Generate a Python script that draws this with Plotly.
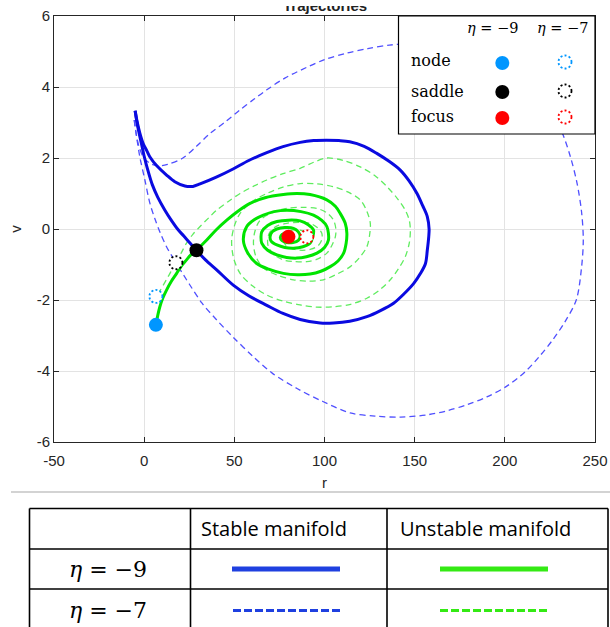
import plotly.graph_objects as go

# ---------------- data ----------------
x_ticks = [-50, 0, 50, 100, 150, 200, 250]
x_tick_text = ["-50", "0", "50", "100", "150", "200", "250"]
y_ticks = [-6, -4, -2, 0, 2, 4, 6]
y_tick_text = ["-6", "-4", "-2", "0", "2", "4", "6"]

# equilibria  (eta = -9 filled, eta = -7 dotted)
node_9 = (6.5, -2.7)
saddle_9 = (29.0, -0.6)
focus_9 = (80.0, -0.22)
node_7 = (6.5, -1.9)
saddle_7 = (17.6, -0.95)
focus_7 = (90.2, -0.22)

# stable manifold, eta = -9 (solid blue)
stab9_a_r = [-5.0, -4.0, -2.8, -1.5, 0.0, 1.8, 4.5, 7.5, 11.5, 15.0, 18.5, 22.0, 25.5, 29.0]
stab9_a_v = [3.33, 3.0, 2.7, 2.4, 2.05, 1.7, 1.25, 0.9, 0.53, 0.25, 0.0, -0.2, -0.4, -0.6]
stab9_b_r = [-5.0, -4.0, -2.4, -0.5, 1.5, 3.2, 7.0, 12.4, 17.0, 22.6, 27.0, 31.0, 40.0, 49.3, 58.0,
             68.0, 77.0, 86.5, 94.0, 101.0, 108.0, 114.0, 122.0, 129.0, 136.0, 142.0, 147.0, 151.3,
             154.5, 157.0, 158.0, 157.8, 157.0, 156.0, 153.0, 149.5, 144.0, 138.3, 131.0, 123.5,
             114.0, 105.0, 97.6, 86.5, 77.0, 68.0, 58.0, 49.4, 40.2, 34.0, 29.0]
stab9_b_v = [3.33, 3.05, 2.7, 2.4, 2.2, 2.03, 1.78, 1.52, 1.33, 1.21, 1.2, 1.27, 1.46, 1.69, 1.93,
             2.15, 2.32, 2.44, 2.49, 2.5, 2.49, 2.46, 2.33, 2.13, 1.9, 1.66, 1.35, 1.0,
             0.65, 0.35, 0.0, -0.22, -0.6, -0.97, -1.27, -1.53, -1.83, -2.09, -2.3, -2.47,
             -2.6, -2.65, -2.65, -2.55, -2.38, -2.15, -1.88, -1.58, -1.15, -0.87, -0.6]

# stable manifold, eta = -7 (dashed blue)
stab7_a_r = [-5.5, -4.2, -2.4, 0.4, 3.2, 6.0, 9.0, 12.4, 15.0, 17.6]
stab7_a_v = [3.07, 2.6, 2.03, 1.38, 0.72, 0.28, -0.12, -0.5, -0.73, -0.95]
stab7_b_r = [-5.5, -4.5, -3.0, -0.5, 3.2, 7.8, 13.0, 21.5, 29.0, 36.5, 45.0, 53.0, 61.0, 68.0,
             78.0, 90.0, 100.0, 112.0, 124.0, 136.0, 148.0, 160.0, 172.0, 185.0, 198.0, 210.0,
             220.0, 227.0, 232.0, 236.4, 240.0, 242.5, 243.5, 242.5, 239.6, 233.5, 226.6, 219.0,
             211.5, 200.7, 190.0, 179.0, 168.0, 157.5, 142.3, 128.0, 114.2, 99.1, 85.0, 71.0,
             60.6, 49.4, 40.0, 32.1, 25.0, 17.6]
stab7_b_v = [3.07, 2.7, 2.35, 2.03, 1.85, 1.78, 1.82, 2.0, 2.33, 2.69, 3.02, 3.35, 3.66, 3.92,
             4.25, 4.55, 4.77, 4.95, 5.08, 5.18, 5.22, 5.2, 5.1, 4.92, 4.62, 4.2,
             3.7, 3.2, 2.69, 2.03, 1.3, 0.5, -0.3, -1.1, -2.0, -2.6, -3.12, -3.6,
             -4.01, -4.44, -4.73, -4.95, -5.12, -5.23, -5.3, -5.27, -5.18, -4.86, -4.5, -4.06,
             -3.6, -3.05, -2.55, -2.09, -1.55, -0.95]

# unstable manifold, eta = -9 (solid green)
unst9_a_r = [29.0, 26.0, 23.5, 20.5, 18.0, 15.0, 12.4, 10.3, 8.7, 7.6, 6.9, 6.5]
unst9_a_v = [-0.6, -0.72, -0.87, -1.05, -1.25, -1.48, -1.72, -1.95, -2.19, -2.42, -2.6, -2.7]
unst9_b_r = [29.0, 34.7, 40.0, 45.8, 52.0, 58.7, 67.0, 77.2, 84.7, 92.0, 101.3, 106.0, 108.7,
             111.5, 112.4, 112.0, 110.6, 107.5, 103.2, 98.0, 92.0, 85.0, 77.2, 69.0, 62.4, 57.5,
             55.0, 56.9, 61.0, 66.1, 72.0, 79.1, 87.0, 93.9, 98.5, 101.3, 102.2, 100.0, 95.8,
             90.0, 84.7, 79.0, 73.6, 68.5, 65.2, 64.8, 65.2, 68.5, 73.6, 80.0, 86.5, 91.0, 93.9,
             93.5, 92.0, 88.0, 82.8, 78.0, 73.6, 70.5, 69.8, 71.0, 73.6, 78.0, 82.8, 85.5, 86.5,
             85.5, 82.5, 79.0, 76.5, 75.5, 76.5, 79.0, 81.5, 82.5, 81.5, 80.0]
unst9_b_v = [-0.6, -0.31, -0.02, 0.25, 0.5, 0.72, 0.88, 0.97, 1.0, 0.97, 0.82, 0.64, 0.44,
             0.16, -0.12, -0.4, -0.68, -0.9, -1.06, -1.19, -1.27, -1.29, -1.25, -1.13, -0.97, -0.68,
             -0.31, 0.07, 0.26, 0.39, 0.49, 0.53, 0.49, 0.39, 0.24, 0.07, -0.31, -0.52, -0.68,
             -0.78, -0.82, -0.8, -0.73, -0.6, -0.4, -0.22, -0.08, 0.1, 0.21, 0.25, 0.23, 0.12, -0.03,
             -0.22, -0.4, -0.5, -0.54, -0.52, -0.45, -0.35, -0.22, -0.08, 0.0, 0.04, 0.02, -0.08, -0.2,
             -0.32, -0.38, -0.38, -0.33, -0.24, -0.15, -0.11, -0.14, -0.21, -0.27, -0.22]

# unstable manifold, eta = -7 (dashed green)
unst7_a_r = [17.6, 15.8, 14.3, 12.4, 10.6, 9.0, 7.8, 6.5]
unst7_a_v = [-0.95, -1.1, -1.25, -1.42, -1.58, -1.72, -1.8, -1.9]
unst7_b_r = [17.6, 20.5, 23.5, 27.0, 31.0, 35.5, 40.2, 46.5, 53.2, 60.5, 68.0, 77.0, 86.5, 94.0,
             101.3, 110.5, 119.8, 128.0, 134.7, 140.5, 144.8, 147.0, 147.6, 147.0, 144.8, 141.0,
             136.5, 130.5, 123.5, 114.5, 105.0, 95.5, 86.5, 77.0, 68.0, 60.0, 53.2, 49.5, 48.5,
             50.0, 53.2, 60.0, 68.0, 77.0, 86.5, 96.0, 105.0, 113.5, 119.8, 123.5, 125.4, 125.0,
             123.5, 119.5, 114.3, 107.0, 99.4, 91.0, 82.8, 74.0, 66.1, 62.0, 60.6, 61.5, 64.3,
             71.0, 79.1, 87.5, 95.8, 101.5, 105.0, 106.3, 106.0, 104.0, 101.3, 96.0, 90.2, 83.5,
             77.2, 72.0, 68.9, 68.5, 69.8, 73.5, 79.1, 85.5, 92.0, 96.0, 98.5, 98.5, 96.5, 92.5,
             87.5, 82.5, 78.5, 76.8, 77.5, 80.5, 85.0, 89.0, 91.0, 90.2]
unst7_b_v = [-0.95, -0.68, -0.4, -0.15, 0.07, 0.3, 0.53, 0.77, 1.0, 1.2, 1.38, 1.56, 1.71, 1.88,
             2.0, 1.93, 1.75, 1.5, 1.19, 0.85, 0.53, 0.25, -0.03, -0.4, -0.78, -1.12,
             -1.43, -1.72, -1.95, -2.12, -2.19, -2.2, -2.14, -2.03, -1.86, -1.6, -1.25, -0.8, -0.31,
             0.08, 0.44, 0.78, 1.0, 1.18, 1.28, 1.27, 1.19, 1.03, 0.82, 0.5, 0.16, -0.17,
             -0.5, -0.8, -1.06, -1.27, -1.43, -1.47, -1.43, -1.3, -1.1, -0.78, -0.4, -0.05, 0.25,
             0.46, 0.58, 0.61, 0.58, 0.45, 0.25, 0.0, -0.22, -0.47, -0.68, -0.85, -0.92, -0.92,
             -0.87, -0.72, -0.5, -0.28, -0.08, 0.08, 0.16, 0.19, 0.16, 0.04, -0.12, -0.3, -0.47, -0.57,
             -0.6, -0.56, -0.45, -0.3, -0.15, -0.05, -0.02, -0.08, -0.2, -0.22]

legend_rows = ["node", "saddle", "focus"]
legend_cols = ["<i>η</i> = −9", "<i>η</i> = −7"]
table_header = ["Stable manifold", "Unstable manifold"]
table_rows = ["<i>η</i> = −9", "<i>η</i> = −7"]

# ---------------- styles ----------------
BLUE = "#0a0ae0"
BLUE_D = "#5050ff"
GREEN = "#00e400"
GREEN_D = "#5fec5f"
NODE_C = "#0096ff"
SADDLE_C = "#000000"
FOCUS_C = "#ff0000"
AXC = "#262626"

W_FIG, H_FIG = 610, 627
L, R, T, B = 54, 595, 16, 442  # plot area in page pixels
PW, PH = R - L, B - T


def px(x_page):
    return (x_page - L) / PW


def py(y_page):
    return (B - y_page) / PH


fig = go.Figure()


def add_line(r, v, color, width, dash=None):
    fig.add_trace(go.Scatter(x=r, y=v, mode="lines",
                             line=dict(color=color, width=width, dash=dash,
                                       shape="spline", smoothing=0.9),
                             hoverinfo="skip", showlegend=False))


add_line(stab7_a_r, stab7_a_v, BLUE_D, 1.3, "6px,4px")
add_line(stab7_b_r, stab7_b_v, BLUE_D, 1.3, "6px,4px")
add_line(unst7_a_r, unst7_a_v, GREEN_D, 1.3, "6px,4px")
add_line(unst7_b_r, unst7_b_v, GREEN_D, 1.3, "6px,4px")
add_line(stab9_a_r, stab9_a_v, BLUE, 3)
add_line(stab9_b_r, stab9_b_v, BLUE, 3)
add_line(unst9_a_r, unst9_a_v, GREEN, 3)
add_line(unst9_b_r, unst9_b_v, GREEN, 3)

# filled equilibria (eta = -9)
fig.add_trace(go.Scatter(
    x=[node_9[0], saddle_9[0], focus_9[0]], y=[node_9[1], saddle_9[1], focus_9[1]],
    mode="markers", marker=dict(size=14, color=[NODE_C, SADDLE_C, FOCUS_C], line=dict(width=0)),
    hoverinfo="skip", showlegend=False))

shapes = []
# dotted equilibria (eta = -7)
for (r0, v0), c in [(node_7, NODE_C), (saddle_7, SADDLE_C), (focus_7, FOCUS_C)]:
    shapes.append(dict(type="circle", xref="x", yref="y", xsizemode="pixel", ysizemode="pixel",
                       xanchor=r0, yanchor=v0, x0=-6.5, x1=6.5, y0=-6.5, y1=6.5,
                       line=dict(color=c, width=1.8, dash="2px,2.2px"), fillcolor="white",
                       layer="above"))

# legend box
shapes.append(dict(type="rect", xref="paper", yref="paper", x0=px(398.5), x1=px(595),
                   y0=py(134), y1=py(16), line=dict(color="black", width=1.2),
                   fillcolor="white", layer="above"))
leg_y = [62.5, 91.5, 117.5]
leg_c = [NODE_C, SADDLE_C, FOCUS_C]
for yy, c in zip(leg_y, leg_c):
    shapes.append(dict(type="circle", xref="paper", yref="paper", xsizemode="pixel",
                       ysizemode="pixel", xanchor=px(502.3), yanchor=py(yy + 0.5),
                       x0=-7, x1=7, y0=-7, y1=7, line=dict(width=0), fillcolor=c,
                       layer="above"))
    shapes.append(dict(type="circle", xref="paper", yref="paper", xsizemode="pixel",
                       ysizemode="pixel", xanchor=px(565), yanchor=py(yy - 0.5),
                       x0=-6.5, x1=6.5, y0=-6.5, y1=6.5,
                       line=dict(color=c, width=1.8, dash="2px,2.2px"), fillcolor="white",
                       layer="above"))

# separator line
shapes.append(dict(type="line", xref="paper", yref="paper", x0=px(11), x1=px(612),
                   y0=py(492), y1=py(492), line=dict(color="#c4c4c4", width=1.3)))

# table grid
tl, tr_, tt, tb = 29.5, 608, 508.5, 640
for yy in [tt, 549, 589]:
    shapes.append(dict(type="line", xref="paper", yref="paper", x0=px(tl), x1=px(tr_),
                       y0=py(yy), y1=py(yy), line=dict(color="black", width=1.6)))
for xx in [tl, 190.5, 387, tr_]:
    shapes.append(dict(type="line", xref="paper", yref="paper", x0=px(xx), x1=px(xx),
                       y0=py(tt), y1=py(tb), line=dict(color="black", width=1.6)))
# table line samples
samples = [(232, 340, 569, "#1f40e0", 5, None), (440, 548, 569, "#34ea14", 5, None),
           (233, 341, 610.5, "#1f40e0", 3, "8px,3px"), (440, 548, 610.5, "#34ea14", 3, "8px,3px")]
for x0, x1, yy, c, w, d in samples:
    shapes.append(dict(type="line", xref="paper", yref="paper", x0=px(x0), x1=px(x1),
                       y0=py(yy), y1=py(yy), line=dict(color=c, width=w, dash=d)))

annotations = []
# title, cut off at the top of the picture (only its lower edge shows)
annotations.append(dict(text="<b>Trajectories</b>", xref="paper", yref="paper",
                        x=px(324.5), y=py(15.5), xanchor="center", yanchor="bottom",
                        showarrow=False, font=dict(family="Liberation Sans", size=15,
                                                   color="#222222")))
# white strip hiding the upper part of the title, as in the reference crop
annotations.append(dict(text=" ", xref="paper", yref="paper", x=px(324.5), y=py(-4),
                        xanchor="center", yanchor="top", width=150, height=10,
                        bgcolor="white", borderpad=0, borderwidth=0, showarrow=False,
                        font=dict(size=4)))
# legend texts
for xx, t in zip([493, 562], legend_cols):
    annotations.append(dict(text=t, xref="paper", yref="paper", x=px(xx), y=py(28),
                            xanchor="center", yanchor="middle", showarrow=False,
                            font=dict(family="DejaVu Serif", size=14.5, color="black")))
for yy, t in zip([60.5, 91.5, 117], legend_rows):
    annotations.append(dict(text=t, xref="paper", yref="paper", x=px(409), y=py(yy),
                            xanchor="left", yanchor="middle", showarrow=False,
                            font=dict(family="DejaVu Serif", size=16, color="black")))
# table texts
for xx, t in zip([199, 397.5], table_header):
    annotations.append(dict(text=t, xref="paper", yref="paper", x=px(xx), y=py(528),
                            xanchor="left", yanchor="middle", showarrow=False,
                            font=dict(family="Open Sans", size=20, color="black")))
for yy, t in zip([569, 610], table_rows):
    annotations.append(dict(text=t, xref="paper", yref="paper", x=px(108), y=py(yy),
                            xanchor="center", yanchor="middle", showarrow=False,
                            font=dict(family="DejaVu Serif", size=22, color="black")))

axis_common = dict(showline=True, linecolor=AXC, linewidth=1, mirror="allticks",
                   ticks="inside", ticklen=5, tickcolor=AXC, tickwidth=1,
                   showgrid=True, gridcolor="#e3e3e3", gridwidth=1, zeroline=False,
                   tickfont=dict(family="Liberation Sans", size=15, color=AXC),
                   fixedrange=True)

fig.update_layout(
    width=W_FIG, height=H_FIG,
    margin=dict(l=L, r=W_FIG - R, t=T, b=H_FIG - B, autoexpand=False),
    paper_bgcolor="white", plot_bgcolor="white",
    xaxis=dict(range=[-50, 250], tickvals=x_ticks, ticktext=x_tick_text,
               ticklabelstandoff=5,
               title=dict(text="r", font=dict(family="Liberation Sans", size=15, color=AXC),
                          standoff=9), **axis_common),
    yaxis=dict(range=[-6, 6], tickvals=y_ticks, ticktext=y_tick_text,
               title=dict(text="v", font=dict(family="Liberation Sans", size=15, color=AXC),
                          standoff=11), **axis_common),
    shapes=shapes, annotations=annotations, showlegend=False, hovermode=False,
)

fig.write_html(
    "out.html",
    config={"displayModeBar": False, "staticPlot": True},
    post_script=("document.body.style.margin='0';"
                 "document.body.style.overflow='hidden';"
                 "document.documentElement.style.overflow='hidden';"),
)
